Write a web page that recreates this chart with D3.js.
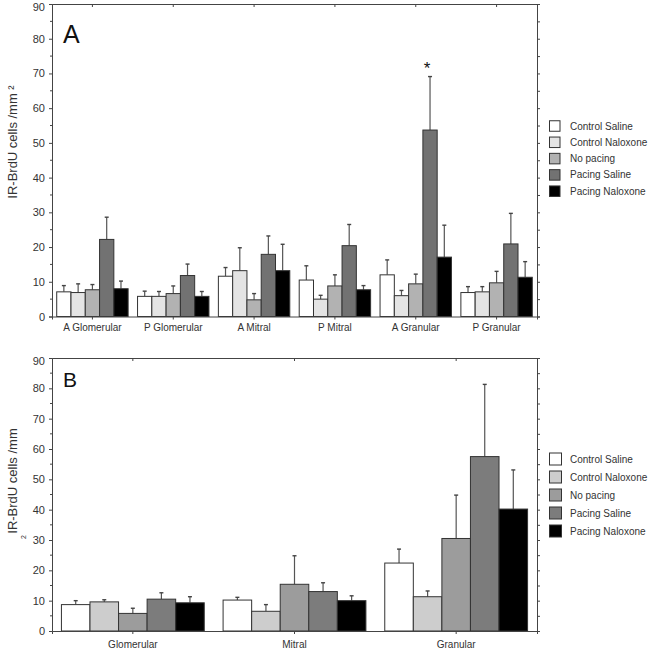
<!DOCTYPE html>
<html>
<head>
<meta charset="utf-8">
<script src="https://cdn.jsdelivr.net/npm/d3@7"></script>
<style>
  body { margin: 0; background: #fff; }
  svg { display: block; font-family: "Liberation Sans", Arial, sans-serif; }
</style>
</head>
<body>
<svg id="chart" width="650" height="652"></svg>
<script>
// ---------- DATA ----------
const seriesNames = ["Control Saline", "Control Naloxone", "No pacing", "Pacing Saline", "Pacing Naloxone"];
const yTicks = [0, 10, 20, 30, 40, 50, 60, 70, 80, 90];

// Panel A
const categoriesA = ["A Glomerular", "P Glomerular", "A Mitral", "P Mitral", "A Granular", "P Granular"];
const controlSalineA   = [7.1, 5.8, 11.6, 10.5, 12.0, 6.9];
const controlNaloxoneA = [6.9, 5.8, 13.2, 5.0, 6.0, 7.1];
const noPacingA        = [7.7, 6.6, 4.8, 8.8, 9.4, 9.7];
const pacingSalineA    = [22.2, 11.8, 17.9, 20.4, 53.7, 20.9];
const pacingNaloxoneA  = [8.0, 5.8, 13.2, 7.7, 17.1, 11.3];
const errCSA = [8.9, 7.3, 14.1, 14.6, 16.3, 8.6];
const errCNA = [9.4, 7.2, 19.8, 6.1, 7.5, 8.6];
const errNPA = [9.2, 8.8, 6.6, 12.0, 12.2, 13.0];
const errPSA = [28.6, 15.1, 23.2, 26.5, 69.1, 29.7];
const errPNA = [10.2, 7.2, 20.8, 8.9, 26.3, 15.8];
const starA = { category: "A Granular", series: "Pacing Saline", value: 72 };

// Panel B
const categoriesB = ["Glomerular", "Mitral", "Granular"];
const controlSalineB   = [8.7, 10.2, 22.4];
const controlNaloxoneB = [9.6, 6.5, 11.3];
const noPacingB        = [5.8, 15.4, 30.5];
const pacingSalineB    = [10.5, 13.0, 57.5];
const pacingNaloxoneB  = [9.3, 10.0, 40.2];
const errCSB = [10.0, 11.1, 27.0];
const errCNB = [10.3, 8.7, 13.2];
const errNPB = [7.5, 24.8, 44.8];
const errPSB = [12.6, 15.9, 81.3];
const errPNB = [11.3, 11.6, 53.1];

const colorsA = ["#ffffff", "#e4e4e4", "#b2b2b2", "#727272", "#000000"];
const colorsB = ["#ffffff", "#cdcdcd", "#9c9c9c", "#7c7c7c", "#000000"];

function buildRows(cats, vals, errs) {
  return cats.map((c, i) => ({
    cat: c,
    bars: seriesNames.map((s, j) => ({ series: s, value: vals[j][i], err: errs[j][i] }))
  }));
}
const rowsA = buildRows(categoriesA,
  [controlSalineA, controlNaloxoneA, noPacingA, pacingSalineA, pacingNaloxoneA],
  [errCSA, errCNA, errNPA, errPSA, errPNA]);
const rowsB = buildRows(categoriesB,
  [controlSalineB, controlNaloxoneB, noPacingB, pacingSalineB, pacingNaloxoneB],
  [errCSB, errCNB, errNPB, errPSB, errPNB]);

const svg = d3.select("#chart");
const axisColor = "#444";
const textColor = "#333";

function drawPanel(cfg) {
  const { rows, cats, colors, top, bottom, left, right, label, labelSize, labelBaseline,
          legendY, legendStep, legendBox, catLabelY, ylab } = cfg;
  const g = svg.append("g");
  const x = d3.scaleBand().domain(cats).range([left, right]).paddingInner(0).paddingOuter(0);
  const xs = d3.scaleBand().domain(seriesNames).range([0, x.bandwidth()]).paddingInner(0).paddingOuter(0.33);
  const y = d3.scaleLinear().domain([0, 90]).range([bottom, top]);

  const grp = g.selectAll("g.grp").data(rows).join("g")
    .attr("transform", d => `translate(${x(d.cat)},0)`);
  grp.selectAll("line.err").data(d => d.bars).join("line")
    .attr("x1", d => xs(d.series) + xs.bandwidth() / 2)
    .attr("x2", d => xs(d.series) + xs.bandwidth() / 2)
    .attr("y1", d => y(d.value)).attr("y2", d => y(d.err))
    .attr("stroke", "#555").attr("stroke-width", 1.2);
  grp.selectAll("line.cap").data(d => d.bars).join("line")
    .attr("x1", d => xs(d.series) + xs.bandwidth() / 2 - 2)
    .attr("x2", d => xs(d.series) + xs.bandwidth() / 2 + 2)
    .attr("y1", d => y(d.err)).attr("y2", d => y(d.err))
    .attr("stroke", "#444").attr("stroke-width", 1.4);
  grp.selectAll("rect").data(d => d.bars).join("rect")
    .attr("x", d => xs(d.series))
    .attr("width", xs.bandwidth())
    .attr("y", d => y(d.value))
    .attr("height", d => y(0) - y(d.value))
    .attr("fill", (d, i) => colors[i])
    .attr("stroke", "#333").attr("stroke-width", 1);

  const leftAx = d3.axisLeft(y).tickValues(yTicks).tickSize(3).tickPadding(4);
  const la = g.append("g").attr("transform", `translate(${left},0)`).call(leftAx);
  la.select(".domain").attr("stroke", axisColor);
  la.selectAll(".tick line").attr("stroke", axisColor);
  la.selectAll("text").attr("fill", textColor).style("font-size", "11px");
  la.selectAll(".tick").filter(d => d === 90).select("text").attr("dy", "0.62em");
  const minor = d3.range(5, 90, 10);
  g.append("g").selectAll("line").data(minor).join("line")
    .attr("x1", left - 2).attr("x2", left).attr("y1", d => y(d)).attr("y2", d => y(d))
    .attr("stroke", axisColor);

  const rightAx = d3.axisRight(y).tickValues(d3.range(0, 91, 5)).tickSize(3).tickFormat("");
  const ra = g.append("g").attr("transform", `translate(${right},0)`).call(rightAx);
  ra.select(".domain").attr("stroke", axisColor);
  ra.selectAll(".tick line").attr("stroke", axisColor);

  const bottomAx = d3.axisBottom(x).tickSize(3).tickPadding(6);
  const ba = g.append("g").attr("transform", `translate(0,${bottom})`).call(bottomAx);
  ba.select(".domain").attr("stroke", axisColor);
  ba.selectAll(".tick line").attr("stroke", axisColor);
  ba.selectAll("text").attr("fill", textColor).style("font-size", "10px")
    .attr("y", catLabelY - bottom).attr("dy", 0);

  const topAx = d3.axisBottom(x).tickSize(3).tickFormat("");
  const ta = g.append("g").attr("transform", `translate(0,${top})`).call(topAx);
  ta.select(".domain").attr("stroke", axisColor);
  ta.selectAll(".tick line").attr("stroke", axisColor);

  g.append("text").attr("x", left + 11).attr("y", labelBaseline)
    .style("font-size", labelSize + "px").attr("fill", "#111").text(label);

  ylab(g, (top + bottom) / 2);

  const lg = g.append("g");
  seriesNames.forEach((s, i) => {
    const cy = legendY + i * legendStep;
    lg.append("rect").attr("x", 549.5).attr("y", cy - legendBox / 2).attr("width", legendBox).attr("height", legendBox)
      .attr("fill", colors[i]).attr("stroke", "#333").attr("stroke-width", 1);
    lg.append("text").attr("x", 570).attr("y", cy).attr("dy", "0.35em")
      .style("font-size", "10px").attr("fill", textColor).text(s);
  });

  return { x, xs, y, g };
}

const pA = drawPanel({
  rows: rowsA, cats: categoriesA, colors: colorsA,
  top: 4, bottom: 316.5, left: 52, right: 537,
  label: "A", labelSize: 25, labelBaseline: 43,
  legendY: 126, legendStep: 16.3, legendBox: 10.5, catLabelY: 331,
  ylab: (g, cy) => {
    g.append("text").attr("transform", `translate(17,142) rotate(-90)`)
      .attr("text-anchor", "middle").style("font-size", "13px").attr("fill", textColor)
      .text("IR-BrdU cells /mm ²");
  }
});

pA.g.append("text")
  .attr("x", pA.x(starA.category) + pA.xs(starA.series) + pA.xs.bandwidth() / 2 - 3)
  .attr("y", pA.y(starA.value) + 7)
  .attr("text-anchor", "middle").style("font-size", "17px").attr("fill", "#111").text("*");

drawPanel({
  rows: rowsB, cats: categoriesB, colors: colorsB,
  top: 358, bottom: 631, left: 52, right: 537,
  label: "B", labelSize: 21, labelBaseline: 387,
  legendY: 459, legendStep: 18, legendBox: 12, catLabelY: 648,
  ylab: (g, cy) => {
    g.append("text").attr("transform", `translate(17,481) rotate(-90)`)
      .attr("text-anchor", "middle").style("font-size", "13px").attr("fill", textColor)
      .text("IR-BrdU cells /mm");
    g.append("text").attr("transform", `translate(26,537) rotate(-90)`)
      .attr("text-anchor", "middle").style("font-size", "7px").attr("fill", textColor)
      .text("2");
  }
});
</script>
</body>
</html>
